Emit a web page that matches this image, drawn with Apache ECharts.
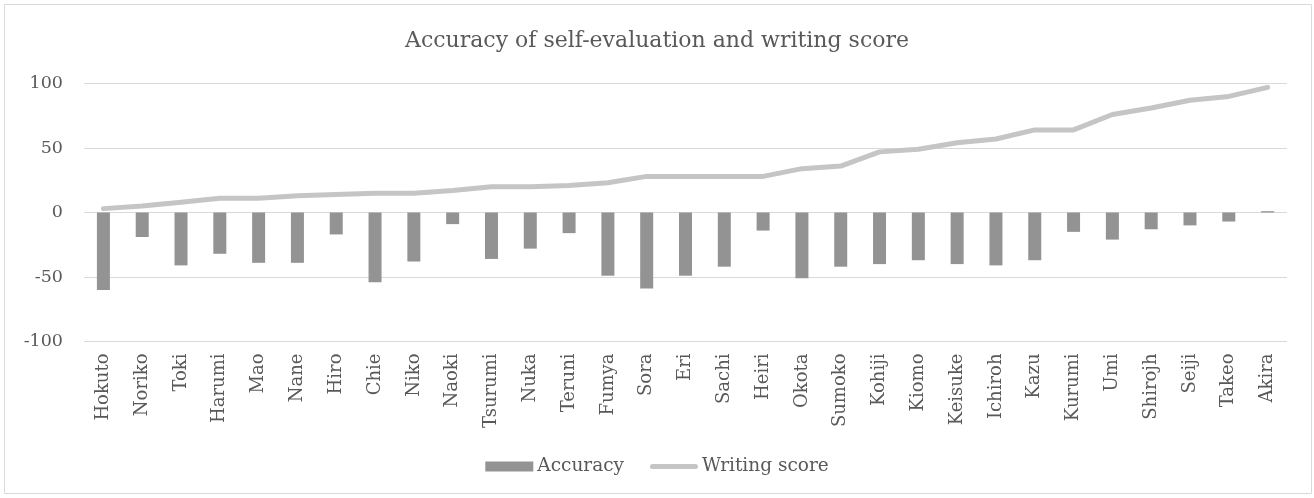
<!DOCTYPE html>
<html lang="en">
	<head>
		<meta charset="UTF-8">
		<title>Accuracy of self-evaluation and writing score</title>
	</head>

	<style>
		html, body {
			margin: 0;
			padding: 0;
			background: #fff;
		}
		.score-chart {
			width: 1314px;
			height: 498px;
		}
	</style>

	<body>
		<div id="echarts" class="score-chart"></div>
	</body>

	<script type="text/javascript" src="https://cdn.jsdelivr.net/npm/echarts@6/dist/echarts.min.js"></script>
	<script>
		var names = ['Hokuto', 'Noriko', 'Toki', 'Harumi', 'Mao', 'Nane', 'Hiro', 'Chie', 'Niko', 'Naoki',
			'Tsurumi', 'Nuka', 'Teruni', 'Fumya', 'Sora', 'Eri', 'Sachi', 'Heiri', 'Okota', 'Sumoko',
			'Kohiji', 'Kiomo', 'Keisuke', 'Ichiroh', 'Kazu', 'Kurumi', 'Umi', 'Shirojh', 'Seiji', 'Takeo', 'Akira']

		var accuracy = [-60, -19, -41, -32, -39, -39, -17, -54, -38, -9,
			-36, -28, -16, -49, -59, -49, -42, -14, -51, -42,
			-40, -37, -40, -41, -37, -15, -21, -13, -10, -7, 1]

		var writingScore = [3, 5, 8, 11, 11, 13, 14, 15, 15, 17,
			20, 20, 21, 23, 28, 28, 28, 28, 34, 36,
			47, 49, 54, 57, 64, 64, 76, 81, 87, 90, 97]

		var yTicks = { min: -100, max: 100, step: 50 }

		var textColor = '#595959'
		var fontName = 'DejaVu Serif'
		// rounded bar used as the legend mark of the line
		var lineIcon = 'path://M2.5,0 L45.5,0 A2.5,2.5 0 0 1 45.5,5 L2.5,5 A2.5,2.5 0 0 1 2.5,0 Z'

		var myChart = echarts.init(document.getElementById('echarts'))

		var option = {
			animation: false,
			textStyle: { fontFamily: fontName, color: textColor },
			graphic: [{
				type: 'rect',
				shape: { x: 4.5, y: 4.5, width: 1307, height: 489 },
				style: { fill: 'none', stroke: '#d9d9d9', lineWidth: 1 },
				silent: true
			}],
			title: {
				text: 'Accuracy of self-evaluation and writing score',
				left: 'center',
				top: 25,
				textStyle: { fontFamily: fontName, color: textColor, fontSize: 22, fontWeight: 'normal' }
			},
			legend: {
				bottom: 17,
				left: 'center',
				itemGap: 26,
				itemWidth: 48,
				itemHeight: 10,
				textStyle: { fontFamily: fontName, color: textColor, fontSize: 18.5, padding: [0, 0, 0, -1] },
				data: [
					{ name: 'Accuracy', icon: 'rect' },
					{ name: 'Writing score', icon: lineIcon, itemStyle: { color: '#c5c5c5' } }
				]
			},
			grid: {
				left: 84,
				right: 27,
				top: 83.5,
				bottom: 156.5,
				containLabel: false
			},
			xAxis: {
				type: 'category',
				data: names,
				position: 'bottom',
				axisLine: { show: false },
				axisTick: { show: false },
				axisLabel: {
					interval: 0,
					rotate: 90,
					margin: 12,
					fontFamily: fontName,
					color: textColor,
					fontSize: 18
				}
			},
			yAxis: {
				type: 'value',
				min: yTicks.min,
				max: yTicks.max,
				interval: yTicks.step,
				axisLine: { show: false },
				axisTick: { show: false },
				axisLabel: { margin: 21, fontFamily: fontName, color: textColor, fontSize: 17.5 },
				splitLine: { lineStyle: { color: '#d9d9d9', width: 1 } }
			},
			series: [{
				name: 'Accuracy',
				type: 'bar',
				barWidth: 13,
				itemStyle: { color: '#939393' },
				data: accuracy
			}, {
				name: 'Writing score',
				type: 'line',
				symbol: 'none',
				showSymbol: false,
				lineStyle: { color: '#c5c5c5', width: 5, cap: 'round', join: 'round' },
				itemStyle: { color: '#c5c5c5' },
				data: writingScore
			}]
		}

		myChart.setOption(option, true)
	</script>
</html>
